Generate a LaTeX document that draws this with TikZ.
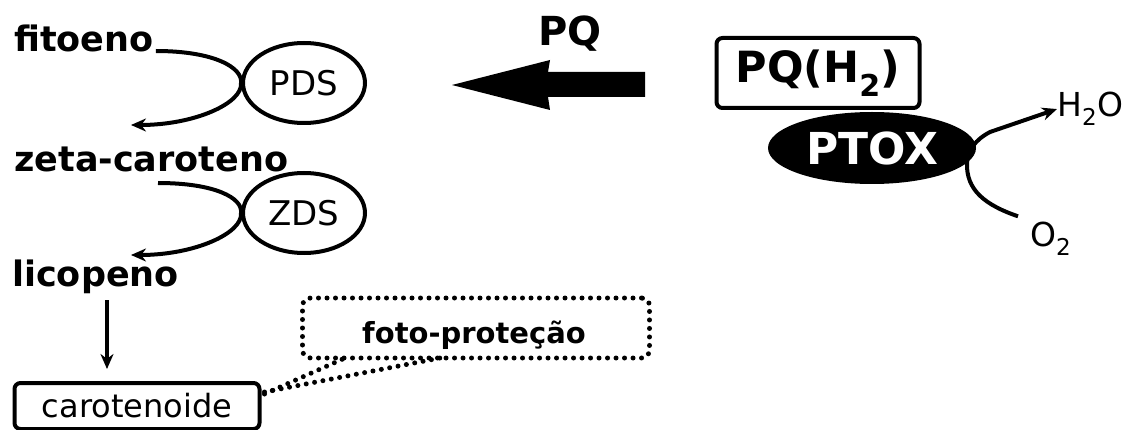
\documentclass[tikz,border=0pt]{standalone}
\usepackage{fontspec}
\setmainfont{DejaVu Sans}
\usetikzlibrary{arrows.meta,shapes.geometric}
\begin{document}
\begin{tikzpicture}[x=1pt,y=-1pt,
        mol/.style = {font=\fontsize{35}{40}\selectfont\bfseries, inner sep=0pt, anchor=base west},
        enzyme/.style = {draw, ellipse, line width=4pt, minimum width=122, minimum height=80, inner sep=0pt, font=\fontsize{34}{40}\selectfont},
        flow/.style = {line width=4pt, -{Stealth[length=15pt,width=13pt]}},
        dots/.style = {line width=5pt, line cap=round, dash pattern=on 0pt off 8.5pt}]
        \useasboundingbox (0,0) rectangle (1137,430);
        % carotenoid pathway
        \node[mol] (fito) at (14,52) {fitoeno};
        \node[mol] (zeta) at (14,172) {zeta-caroteno};
        \node[mol] (lico) at (12,287) {licopeno};
        \node[enzyme] (pds) at (304,83) {PDS};
        \node[enzyme] (zds) at (304,213) {ZDS};
        \coordinate (pdsout) at (131,125);
        \coordinate (zdsout) at (131,255);
        \draw[flow] (fito.base east) ++(2,-1) .. controls (215,51) and (243,68) .. (pds.west)
            .. controls (243,103) and (195,125) .. (pdsout);
        \draw[flow] (158,183) .. controls (215,183) and (243,198) .. (zds.west)
            .. controls (243,233) and (195,255) .. (zdsout);
        \node[draw, rounded corners=6pt, line width=4pt, minimum width=245, minimum height=46, inner sep=0pt,
            font=\fontsize{32}{36}\selectfont] (carot) at (137,406) {carotenoide};
        \coordinate (licoout) at (107,300);
        \coordinate (carotin) at (107,369);
        \draw[flow] (licoout) -- (carotin);
        % photoprotection
        \node[dots, draw, rounded corners=8pt, minimum width=347, minimum height=60, inner sep=0pt] (foto) at (476,328) {};
        \node[font=\fontsize{29}{34}\selectfont\bfseries, anchor=base] (fototxt) at (474,343) {foto-proteção};
        \draw[dots] (carot.east) ++(3,-12) -- (345,358);
        \draw[dots] (carot.east) ++(3,-14) -- (440,358);
        % plastoquinone
        \node[font=\fontsize{40}{44}\selectfont\bfseries] (pq) at (570,34) {PQ};
        \fill (452,85) -- (550,60) -- (548,72) -- (645,72) -- (645,97) -- (548,97) -- (550,110) -- cycle;
        \node[draw, rounded corners=6pt, line width=4pt, minimum width=203, minimum height=70, inner sep=0pt,
            font=\fontsize{43}{48}\selectfont\bfseries] (pqh) at (818,73) {PQ(H\textsubscript{2})};
        \node[ellipse, fill=black, text=white, minimum width=208, minimum height=72, inner sep=0pt,
            font=\fontsize{44}{48}\selectfont\bfseries] (ptox) at (872,148) {PTOX};
        \node[font=\fontsize{33}{36}\selectfont, anchor=base west, inner sep=0pt] (water) at (1057,117) {H\textsubscript{2}O};
        \node[font=\fontsize{33}{36}\selectfont, anchor=base west, inner sep=0pt] (oxy) at (1030,247) {O\textsubscript{2}};
        \draw[flow] (oxy.north west) ++(-12,-6) .. controls (985,205) and (966,190) .. (967,163)
            .. controls (968,150) and (975,140) .. (990,132) -- (water.west);
    \end{tikzpicture}
\end{document}
